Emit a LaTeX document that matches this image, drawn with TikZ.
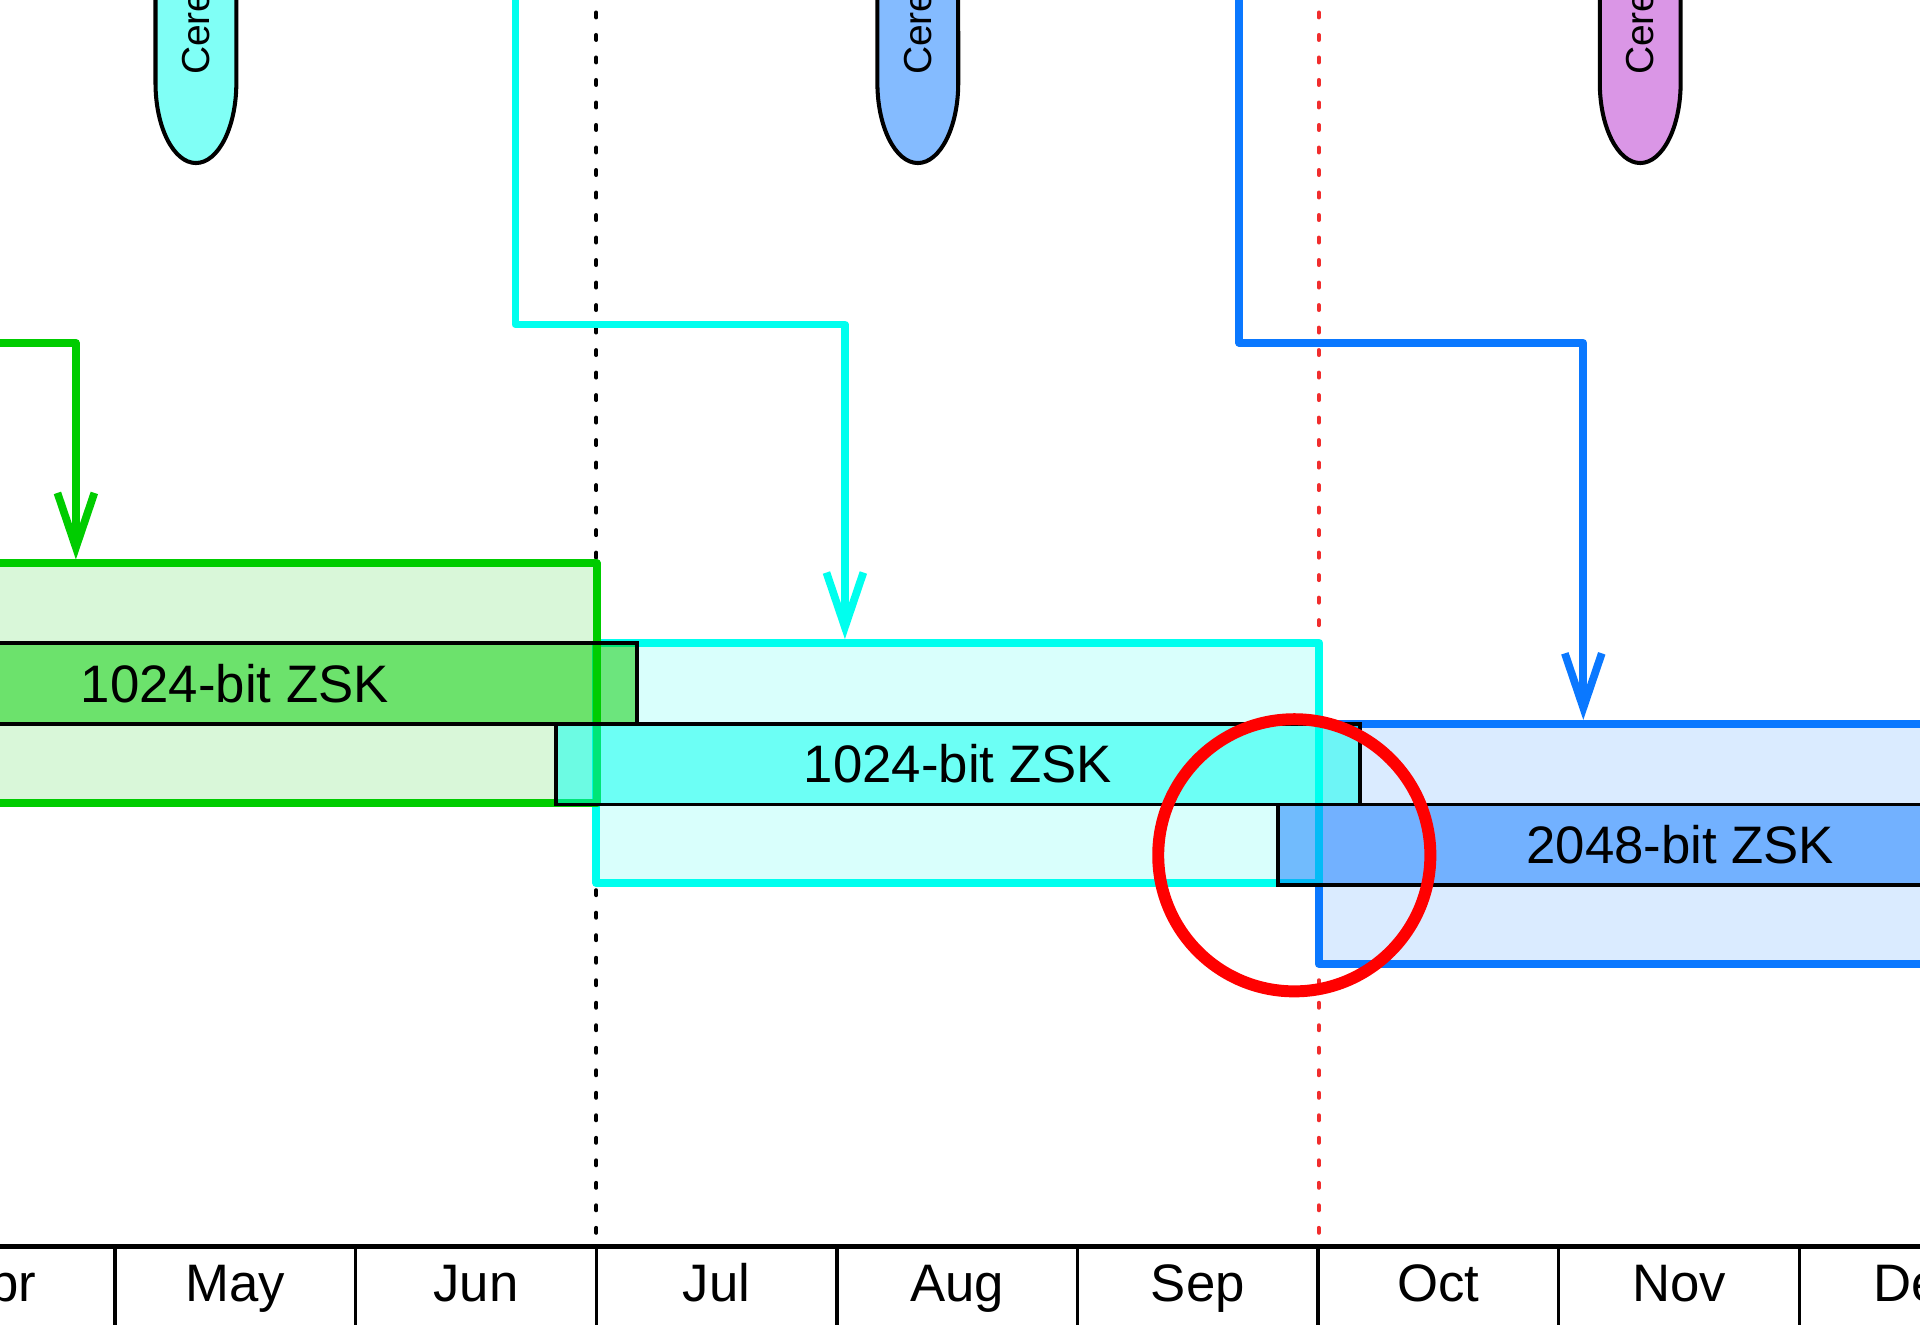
\documentclass[tikz,border=0pt]{standalone}
\usepackage{fontspec}
\setmainfont{Liberation Sans}
\usetikzlibrary{arrows.meta}
\definecolor{gcol}{RGB}{0,204,0}
\definecolor{ccol}{RGB}{0,255,238}
\definecolor{bcol}{RGB}{10,120,255}
\definecolor{cerC}{RGB}{128,255,246}
\definecolor{cerB}{RGB}{132,187,255}
\definecolor{cerP}{RGB}{218,150,230}
\definecolor{reddot}{RGB}{240,45,45}
\begin{document}
\begin{tikzpicture}[x=0.01cm,y=-0.01cm,
 every node/.style={outer sep=0pt},
 period/.style={draw=#1, fill=#1, fill opacity=0.15, line width=2.3pt, minimum width=7.225cm, minimum height=2.4cm, inner sep=0pt, anchor=north west, line join=round},
 zsk/.style={draw=black, fill=#1, fill opacity=0.5, text opacity=1, line width=1.1pt, minimum width=8.033cm, minimum height=0.808cm, inner sep=0pt, font=\fontsize{15}{18}\selectfont},
 conn/.style={draw=#1, line width=2.2pt, line join=round, -{Straight Barb[length=15.5pt,width=10.5pt]}},
 dotline/.style={draw=#1, line width=1.15pt, line cap=round, dash pattern=on 1.4pt off 5pt},
 capsule/.style={draw=black, line width=1.15pt, fill=#1},
 certext/.style={rotate=90, anchor=west, inner sep=0pt, font=\fontsize{11.1}{13}\selectfont},
 cell/.style={draw=black, line width=0.9pt, minimum width=2.406cm, minimum height=1.2cm, anchor=north, inner sep=0pt},
 mlabel/.style={anchor=base, inner sep=0pt, font=\fontsize{15}{18}\selectfont},
]
\useasboundingbox (0,0) rectangle (1920,1325);
\clip (0,0) rectangle (1920,1325);

% dotted guide lines
\coordinate (d1t) at (596.3,-10);
\coordinate (d1b) at (596.3,1246.6);
\coordinate (d2t) at (1318.8,-10);
\coordinate (d2b) at (1318.8,1246.6);
\draw[dotline=black] (d1t) -- (d1b);
\draw[dotline=reddot] (d2t) -- (d2b);

% ceremony capsules
\draw[capsule=cerC] (155.5,-10) -- (155.5,83) arc[start angle=180, end angle=360, x radius=0.404cm, y radius=0.8cm] -- (236.3,-10);
\node[certext] (cer1) at (195.9,75) {Cere};
\draw[capsule=cerB] (877.4,-10) -- (877.4,83) arc[start angle=180, end angle=360, x radius=0.404cm, y radius=0.8cm] -- (958.2,-10);
\node[certext] (cer2) at (917.8,75) {Cere};
\draw[capsule=cerP] (1599.8,-10) -- (1599.8,83) arc[start angle=180, end angle=360, x radius=0.404cm, y radius=0.8cm] -- (1680.6,-10);
\node[certext] (cer3) at (1640.2,75) {Cere};

% period boxes
\node[period=bcol] (bbox) at (1318.8,723.7) {};
\node[period=ccol] (cbox) at (596.3,642.9) {};
\node[period=gcol] (gbox) at (-126.2,563.3) {};

% connectors
\coordinate (gs) at (-20,342.9);
\coordinate (gtip) at (75.9,559.5);
\draw[conn=gcol] (gs) -| (gtip);
\coordinate (cs) at (515.5,-20);
\coordinate (cc) at (844.9,324.5);
\coordinate (ctip) at (844.9,639.1);
\draw[conn=ccol] (cs) |- (cc) -- (ctip);
\coordinate (bs) at (1239.2,-20);
\coordinate (bc) at (1583.3,342.9);
\coordinate (btip) at (1583.3,719.9);
\draw[conn=bcol] (bs) |- (bc) -- (btip);

% ZSK bars
\node[zsk=gcol, anchor=north east] (gbar) at (636.7,642.9) {1024-bit ZSK};
\node[zsk=ccol, anchor=north west] (cbar) at (555.9,723.7) {1024-bit ZSK};
\node[zsk=bcol, anchor=north west] (bbar) at (1278.4,804.5) {2048-bit ZSK};

% red ring
\node[draw=red, line width=3.4pt, circle, minimum size=2.72cm, inner sep=0pt] (ring) at (1294.3,855.3) {};

% month axis
\foreach \m/\c in {Apr/-5.2, May/235.4, Jun/476, Jul/716.6, Aug/957.2, Sep/1197.8, Oct/1438.4, Nov/1679, Dec/1919.6} {
  \node[cell] (cell\m) at (\c,1246.6) {};
}
\foreach \m/\c in {May/235.4, Jun/476, Jul/716.6, Aug/957.2, Sep/1197.8, Oct/1438.4, Nov/1679} {
  \node[mlabel] (lab\m) at (\c,1302) {\m};
}
\node[mlabel, anchor=base west] (labApr) at (-11,1302) {pr};
\node[mlabel, anchor=base west] (labDec) at (1873,1302) {De};
\coordinate (axl) at (-10,1246.6);
\coordinate (axr) at (1930,1246.6);
\draw[line width=1.5pt] (axl) -- (axr);
\end{tikzpicture}
\end{document}
